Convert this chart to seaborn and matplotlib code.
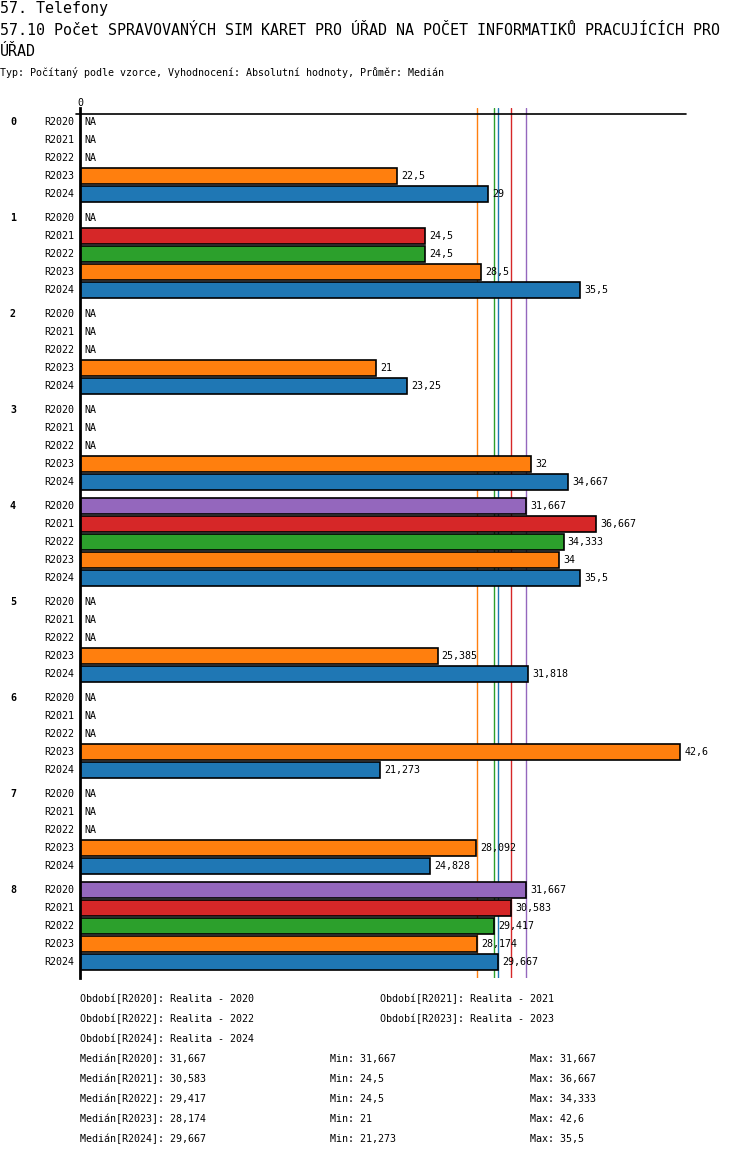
import matplotlib
matplotlib.use("Agg")
import matplotlib.pyplot as plt
from matplotlib.transforms import blended_transform_factory
import pandas as pd
import seaborn as sns

# data (None = NA)
groups = ["0", "1", "2", "3", "4", "5", "6", "7", "8"]
periods = ["R2020", "R2021", "R2022", "R2023", "R2024"]
r2020 = [None, None, None, None, 31.667, None, None, None, 31.667]
r2021 = [None, 24.5, None, None, 36.667, None, None, None, 30.583]
r2022 = [None, 24.5, None, None, 34.333, None, None, None, 29.417]
r2023 = [22.5, 28.5, 21, 32, 34, 25.385, 42.6, 28.092, 28.174]
r2024 = [29, 35.5, 23.25, 34.667, 35.5, 31.818, 21.273, 24.828, 29.667]
medians = [31.667, 30.583, 29.417, 28.174, 29.667]
mins = [31.667, 24.5, 24.5, 21, 21.273]
maxs = [31.667, 36.667, 34.333, 42.6, 35.5]
period_names = ["Realita - 2020", "Realita - 2021", "Realita - 2022",
                "Realita - 2023", "Realita - 2024"]
colors = {"R2020": "#9467bd", "R2021": "#d62728", "R2022": "#2ca02c",
          "R2023": "#ff7f0e", "R2024": "#1f77b4"}

series = [r2020, r2021, r2022, r2023, r2024]

# build long table, row position in units of one bar slot
rows = []
for g_i, g in enumerate(groups):
    for p_i, p in enumerate(periods):
        rows.append({"group": g, "period": p, "value": series[p_i][g_i],
                     "pos": g_i * (5 + 1 / 3) + p_i})
df = pd.DataFrame(rows)
df_bars = df.dropna(subset=["value"])

W, H = 750, 1158
SCALE = 600 / 42.6  # px per unit


def fy(py):
    return 1 - py / H


def u(py):
    return (py - 122) / 18


def fmt(v):
    return f"{v:g}".replace(".", ",")


sns.set_style("white")
plt.rcParams["font.family"] = ["DejaVu Sans Mono", "DejaVu Sans"]
plt.rcParams["text.color"] = "black"

fig = plt.figure(figsize=(W / 100, H / 100), dpi=100)
ax = fig.add_axes([80 / W, fy(978), 606 / W, (978 - 108) / H])

for m, p in zip(medians, periods):
    ax.axvline(m, color=colors[p], lw=1, zorder=0)

sns.barplot(data=df_bars, x="value", y="pos", hue="period", palette=colors,
            orient="h", native_scale=True, dodge=False, width=16 / 18,
            saturation=1, edgecolor="black", linewidth=1.2, errorbar=None,
            legend=False, ax=ax, zorder=2)

ax.set_xlim(0, 606 / SCALE)
ax.set_ylim(u(978), u(108))
ax.set_xticks([])
ax.set_yticks([])
ax.set_xlabel("")
ax.set_ylabel("")
for s in ["top", "right", "bottom"]:
    ax.spines[s].set_visible(False)
ax.spines["left"].set_linewidth(2)
ax.spines["left"].set_color("black")
ax.spines["left"].set_zorder(5)

# top baseline and zero label
ax.plot([-4 / SCALE, 606 / SCALE], [u(114), u(114)], color="black", lw=1.2,
        clip_on=False, zorder=4)
ax.text(0, u(103), "0", ha="center", va="center", fontsize=7.2)

lbl = blended_transform_factory(fig.transFigure, ax.transData)
for _, r in df.iterrows():
    ax.text(74 / W, r["pos"], r["period"], transform=lbl, ha="right",
            va="center", fontsize=7.2)
    if pd.isna(r["value"]):
        ax.text(4 / SCALE, r["pos"], "NA", ha="left", va="center", fontsize=7.2)
    else:
        ax.annotate(fmt(r["value"]), (r["value"], r["pos"]), xytext=(3, 0),
                    textcoords="offset points", ha="left", va="center",
                    fontsize=7.2)
for g_i, g in enumerate(groups):
    ax.text(13 / W, g_i * (5 + 1 / 3), g, transform=lbl, ha="center",
            va="center", fontsize=7.2, fontweight="bold")

# titles
fig.text(0, fy(8), "57. Telefony", fontsize=10.8, va="center")
fig.text(0, fy(30), "57.10 Počet SPRAVOVANÝCH SIM KARET PRO ÚŘAD NA POČET "
         "INFORMATIKŮ PRACUJÍCÍCH PRO", fontsize=10.8, va="center")
fig.text(0, fy(51), "ÚŘAD", fontsize=10.8, va="center")
fig.text(0, fy(73), "Typ: Počítaný podle vzorce, Vyhodnocení: Absolutní "
         "hodnoty, Průměr: Medián", fontsize=7.2, va="center")

# legend block
leg_pos = [(80, 999), (380, 999), (80, 1019), (380, 1019), (80, 1039)]
for (x, y), p, name in zip(leg_pos, periods, period_names):
    fig.text(x / W, fy(y), f"Období[{p}]: {name}", fontsize=7.2, va="center")
for i, p in enumerate(periods):
    y = fy(1059 + 20 * i)
    fig.text(80 / W, y, f"Medián[{p}]: {fmt(medians[i])}", fontsize=7.2, va="center")
    fig.text(330 / W, y, f"Min: {fmt(mins[i])}", fontsize=7.2, va="center")
    fig.text(530 / W, y, f"Max: {fmt(maxs[i])}", fontsize=7.2, va="center")

fig.savefig("out.png", dpi=100)
